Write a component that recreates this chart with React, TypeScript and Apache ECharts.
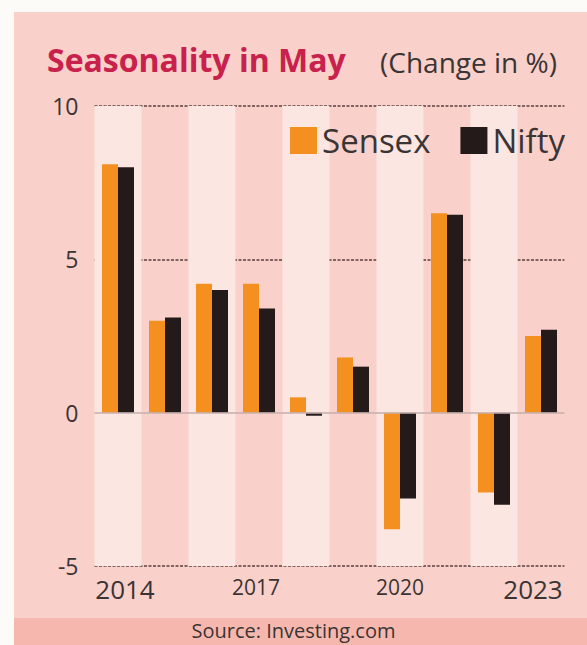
import React, { useEffect, useRef } from "react";
import * as echarts from "echarts";

const categories = ["2014", "2015", "2016", "2017", "2018", "2019", "2020", "2021", "2022", "2023"];
const sensex = [8.1, 3.0, 4.2, 4.2, 0.5, 1.8, -3.8, 6.5, -2.6, 2.5];
const nifty = [8.0, 3.1, 4.0, 3.4, -0.1, 1.5, -2.8, 6.45, -3.0, 2.7];
const xTickLabels = ["2014", "2017", "2020", "2023"];
const yTicks = [-5, 0, 5, 10];

const FONT = "'Open Sans', 'Noto Sans', sans-serif";

export default function App() {
  const ref = useRef<HTMLDivElement>(null);

  useEffect(() => {
    if (!ref.current) return;
    const chart = echarts.init(ref.current, null, { renderer: "svg" });
    const styleKeys = ["bigL", "s1", "s2", "bigR"];
    chart.setOption({
      animation: false,
      backgroundColor: "transparent",
      textStyle: { fontFamily: FONT },
      title: [
        {
          text: "Seasonality in May",
          left: 47,
          top: 43,
          padding: 0,
          textStyle: { fontSize: 32, fontWeight: "bold", color: "#c8214c", fontFamily: FONT },
        },
        {
          text: "(Change in %)",
          left: 380,
          top: 48,
          padding: 0,
          textStyle: { fontSize: 28, fontWeight: "normal", color: "#3a3434", fontFamily: FONT },
        },
      ],
      legend: {
        right: 22,
        top: 124,
        padding: 0,
        icon: "rect",
        itemWidth: 27,
        itemHeight: 27,
        itemGap: 30,
        textStyle: { fontSize: 33, color: "#3a3434", fontFamily: FONT },
        data: ["Sensex", "Nifty"],
      },
      grid: { left: 94.5, right: 22.5, top: 106, bottom: 79, containLabel: false },
      xAxis: {
        type: "category",
        data: categories,
        axisLine: { show: false },
        axisTick: { show: false },
        splitArea: {
          show: true,
          interval: 0,
          areaStyle: { color: ["#fce6e2", "rgba(0,0,0,0)"] },
        },
        axisLabel: {
          interval: (i: number, v: string) => xTickLabels.includes(v),
          margin: 10,
          color: "#3a3434",
          formatter: (v: string) => {
            const k = xTickLabels.indexOf(v);
            return k < 0 ? "" : `{${styleKeys[k]}|${v}}`;
          },
          rich: {
            bigL: { fontSize: 26, color: "#3a3434", fontFamily: FONT, padding: [0, 0, 0, 14] },
            s1: { fontSize: 21, color: "#3a3434", fontFamily: FONT, padding: [0, 6, 0, 0] },
            s2: { fontSize: 21, color: "#3a3434", fontFamily: FONT },
            bigR: { fontSize: 26, color: "#3a3434", fontFamily: FONT, padding: [0, 16, 0, 0] },
          },
        },
      },
      yAxis: {
        type: "value",
        min: yTicks[0],
        max: yTicks[yTicks.length - 1],
        interval: 5,
        axisLine: { show: false },
        axisTick: { show: false },
        axisLabel: { fontSize: 23, color: "#3a3434", margin: 16, fontFamily: FONT },
        splitLine: {
          show: true,
          lineStyle: {
            color: ["#5a403e", "rgba(0,0,0,0)", "#5a403e", "#5a403e"],
            type: [3, 1.5],
            width: 1.5,
          },
        },
      },
      series: [
        {
          name: "Sensex",
          type: "bar",
          data: sensex,
          barWidth: 16,
          barGap: "0%",
          itemStyle: { color: "#f4901f" },
          markLine: {
            silent: true,
            symbol: "none",
            label: { show: false },
            lineStyle: { color: "#c4afac", type: "solid", width: 1.5 },
            data: [{ yAxis: 0 }],
          },
        },
        {
          name: "Nifty",
          type: "bar",
          data: nifty,
          barWidth: 16,
          barGap: "0%",
          itemStyle: { color: "#241a19" },
        },
      ],
      graphic: [
        {
          type: "text",
          left: "center",
          top: 620,
          style: {
            text: "Source: Investing.com",
            fontSize: 20,
            fontFamily: FONT,
            fill: "#3a3434",
          },
        },
      ],
    });
    return () => chart.dispose();
  }, []);

  return (
    <div style={{ position: "absolute", left: 0, top: 0, width: 587, height: 645, background: "#fdfbf7", overflow: "hidden" }}>
      <div style={{ position: "absolute", left: 14, top: 12, width: 573, height: 606, background: "#f9d0ca" }} />
      <div style={{ position: "absolute", left: 14, top: 618, width: 573, height: 27, background: "#f6b8ae" }} />
      <div ref={ref} style={{ position: "absolute", left: 0, top: 0, width: 587, height: 645 }} />
    </div>
  );
}
